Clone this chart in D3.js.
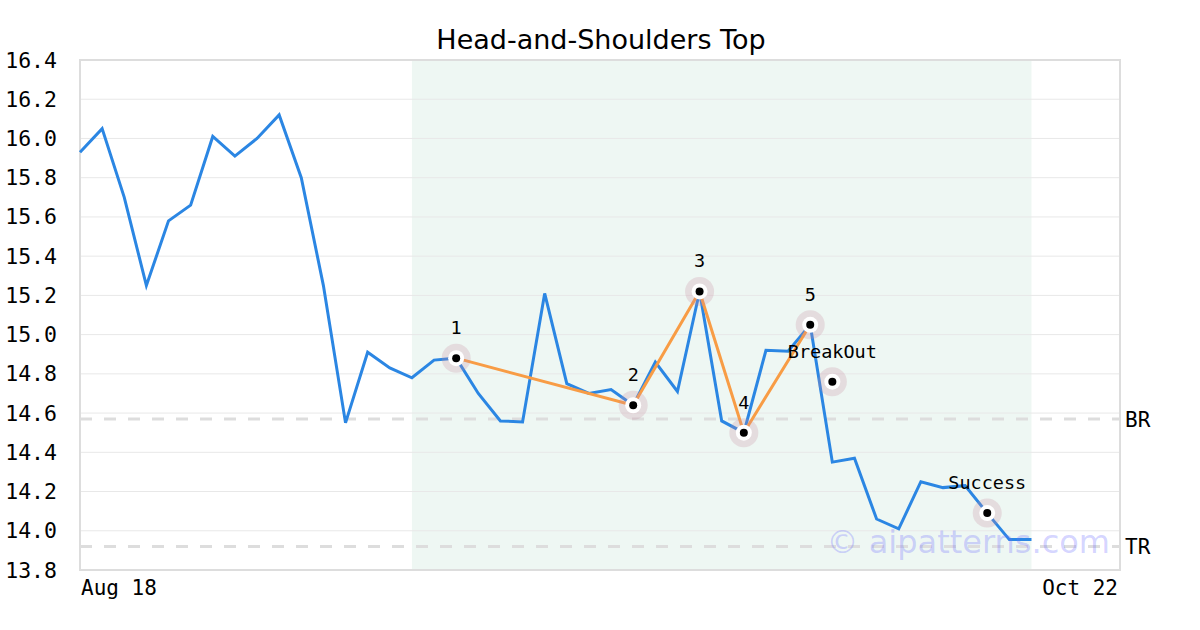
<!DOCTYPE html>
<html><head><meta charset="utf-8">
<script src="https://cdn.jsdelivr.net/npm/d3@7"></script>
<style>body{margin:0;background:#fff}svg{display:block}</style>
</head><body><svg id="c" width="1200" height="630"></svg>
<script>
const title = "Head-and-Shoulders Top";
const prices = [15.93,16.05,15.70,15.25,15.58,15.66,16.01,15.91,16.00,16.12,15.80,15.25,14.55,14.91,14.83,14.78,14.87,14.88,14.70,14.56,14.555,15.21,14.75,14.70,14.72,14.64,14.86,14.71,15.22,14.56,14.50,14.92,14.915,15.05,14.35,14.37,14.06,14.01,14.25,14.22,14.23,14.09,13.955,13.955];
const xLabels = [{i:0,text:"Aug 18"},{i:47,text:"Oct 22"}];
const yTicks = [13.8,14.0,14.2,14.4,14.6,14.8,15.0,15.2,15.4,15.6,15.8,16.0,16.2,16.4];
const shadeRange = [15, 43];
const patternIdx = [17, 25, 28, 30, 33];
const patternLabels = ["1","2","3","4","5"];
const extraMarkers = [{i:34, v:14.76, label:"BreakOut"},{i:41, v:14.09, label:"Success"}];
const levels = [{v:14.57,label:"BR"},{v:13.92,label:"TR"}];

const svg = d3.select("#c");
const L=80,R=1120,T=60,B=570;
const x = d3.scaleLinear().domain([0,47]).range([L,R]);
const y = d3.scaleLinear().domain([13.8,16.4]).range([B,T]);
const mono = "'DejaVu Sans Mono', monospace";

svg.append("rect").attr("x",x(shadeRange[0])).attr("y",T).attr("width",x(shadeRange[1])-x(shadeRange[0])).attr("height",B-T).attr("fill","#eef7f3");

svg.append("g").selectAll("line").data(yTicks).join("line")
  .attr("x1",L).attr("x2",R).attr("y1",d=>y(d)).attr("y2",d=>y(d))
  .attr("stroke","#e8e8e8").attr("stroke-width",1);

svg.append("g").selectAll("line").data(levels).join("line")
  .attr("x1",L).attr("x2",R).attr("y1",d=>y(d.v)).attr("y2",d=>y(d.v))
  .attr("stroke","#dddddd").attr("stroke-width",3).attr("stroke-dasharray","12,12");
svg.append("g").selectAll("text").data(levels).join("text")
  .attr("x",R+5).attr("y",d=>y(d.v)+8).text(d=>d.label)
  .attr("font-family",mono).attr("font-size",21).attr("fill","#000");

svg.append("rect").attr("x",L).attr("y",T).attr("width",R-L).attr("height",B-T)
  .attr("fill","none").attr("stroke","#dddddd").attr("stroke-width",2);

svg.append("g").selectAll("text").data(yTicks).join("text")
  .attr("x",57).attr("y",d=>y(d)+7.5).attr("text-anchor","end").text(d=>d.toFixed(1))
  .attr("font-family",mono).attr("font-size",21.5).attr("fill","#000");

svg.append("g").selectAll("text").data(xLabels).join("text")
  .attr("x",d=>x(d.i)+(d.i===0?1:-2)).attr("y",595).attr("text-anchor",d=>d.i===0?"start":"end").text(d=>d.text)
  .attr("font-family",mono).attr("font-size",21).attr("fill","#000");

svg.append("text").attr("x",601).attr("y",49).attr("text-anchor","middle").text(title)
  .attr("font-family","'DejaVu Sans', sans-serif").attr("font-size",27).attr("fill","#000");

const line = d3.line().x((d,i)=>x(i)).y(d=>y(d));
svg.append("path").datum(prices).attr("d",line).attr("fill","none").attr("stroke","#2b86e3").attr("stroke-width",3).attr("stroke-linejoin","miter");

const pline = d3.line().x(i=>x(i)).y(i=>y(prices[i]));
svg.append("path").datum(patternIdx).attr("d",pline).attr("fill","none").attr("stroke","#f89c45").attr("stroke-width",3);

const markers = patternIdx.map((i,k)=>({i, v:prices[i], label:patternLabels[k]})).concat(extraMarkers);
const mg = svg.append("g").selectAll("g").data(markers).join("g")
  .attr("transform",d=>`translate(${x(d.i)},${y(d.v)})`);
mg.append("circle").attr("r",14.5).attr("fill","rgba(200,140,160,0.25)");
mg.append("circle").attr("r",8).attr("fill","#fff");
mg.append("circle").attr("r",4).attr("fill","#000");
mg.append("text").attr("y",-24).attr("text-anchor","middle").text(d=>d.label)
  .attr("font-family",mono).attr("font-size",18.5).attr("fill","#000");

svg.append("text").attr("x",1110).attr("y",553).attr("text-anchor","end").text("© aipatterns.com")
  .attr("font-family","'DejaVu Sans', sans-serif").attr("font-size",32).attr("fill","rgba(110,110,255,0.3)");
</script></body></html>
